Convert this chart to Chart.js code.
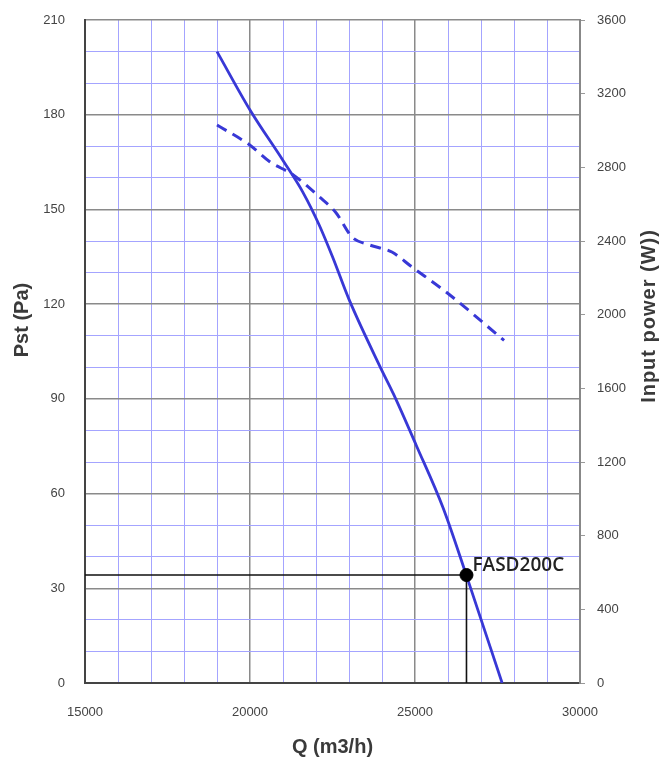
<!DOCTYPE html>
<html>
<head>
<meta charset="utf-8">
<script src="https://cdn.jsdelivr.net/npm/chart.js@4"></script>
<style>
  html, body { margin: 0; padding: 0; background: #fff; }
  #wrap { width: 661px; height: 765px; }
</style>
</head>
<body>
<div id="wrap"><canvas id="fan" width="661" height="765"></canvas></div>
<script>
// static pressure curve (Q in m3/h, Pst in Pa)
const pstQ  = [19000, 20000, 21000, 21600, 22100, 22500, 23000, 23950, 24350, 25050, 25850, 26560, 27640];
const pstPa = [200, 181.5, 165.5, 155.5, 145, 135, 121.5, 100, 91.5, 75, 55.5, 34, 0];

// input power curve (right axis, W)
const powerQ = [19000, 20000, 20600, 21300, 22100, 22600, 23100, 23600, 24300, 24900, 26000, 27700];
const powerW = [3030, 2920, 2830, 2760, 2640, 2555, 2420, 2380, 2340, 2260, 2115, 1860];

// duty point
const dutyQ = [26560];
const dutyP = [34.2];
const dutyName = ["FASD200C"];

// axis tick labels
const xLabels  = [15000, 20000, 25000, 30000];
const yLabels  = [0, 30, 60, 90, 120, 150, 180, 210];
const y2Labels = [0, 400, 800, 1200, 1600, 2000, 2400, 2800, 3200, 3600];

const BLUE = '#3838d6';
const MINOR = '#a4a4ff';
const MAJOR = '#8a8a8a';

function pts(xs, ys) {
  return xs.map((x, i) => ({ x: x, y: ys[i] }));
}

// axis titles drawn by hand (the right one reads bottom-to-top)
const titlesPlugin = {
  id: 'titles',
  afterDraw(chart) {
    const ctx = chart.ctx;
    const a = chart.chartArea;
    ctx.save();
    ctx.fillStyle = '#3a3a3a';
    ctx.font = 'bold 20px "Liberation Sans", Arial, sans-serif';
    ctx.textAlign = 'center';
    ctx.textBaseline = 'middle';
    ctx.fillText('Q (m3/h)', (a.left + a.right) / 2, 747);

    ctx.save();
    ctx.translate(22, 320);
    ctx.rotate(-Math.PI / 2);
    ctx.fillText('Pst (Pa)', 0, 0);
    ctx.restore();

    ctx.save();
    ctx.translate(649, 316);
    ctx.rotate(-Math.PI / 2);
    ctx.letterSpacing = '1px';
    ctx.fillText('Input power (W))', 0, 0);
    ctx.restore();

    // duty point label
    const xs = chart.scales.x, ys = chart.scales.y;
    ctx.font = '600 19px "Open Sans", sans-serif';
    ctx.textAlign = 'left';
    ctx.textBaseline = 'alphabetic';
    ctx.fillStyle = '#222';
    ctx.fillText(dutyName[0], xs.getPixelForValue(dutyQ[0]) + 6, ys.getPixelForValue(dutyP[0]) - 4);
    ctx.restore();
  }
};

const tickFont = { family: '"Liberation Sans", Arial, sans-serif', size: 13 };

function noPad(s, w) {
  s.width = w;
  s.paddingTop = 0;
  s.paddingBottom = 0;
}

new Chart(document.getElementById('fan'), {
  type: 'scatter',
  data: {
    datasets: [
      {
        label: 'duty',
        data: pts(dutyQ, dutyP),
        yAxisID: 'y',
        pointRadius: 6.5,
        pointBackgroundColor: '#000',
        pointBorderColor: '#000',
        showLine: false
      },
      {
        label: 'Pst',
        data: pts(pstQ, pstPa),
        yAxisID: 'y',
        showLine: true,
        borderColor: BLUE,
        borderWidth: 2.8,
        pointRadius: 0,
        cubicInterpolationMode: 'monotone'
      },
      {
        label: 'Input power',
        data: pts(powerQ, powerW),
        yAxisID: 'y2',
        showLine: true,
        borderColor: BLUE,
        borderWidth: 3,
        borderDash: [11, 7],
        pointRadius: 0,
        cubicInterpolationMode: 'monotone'
      },
      {
        label: 'duty lines',
        data: [
          { x: 15000, y: dutyP[0] },
          { x: dutyQ[0], y: dutyP[0] },
          { x: dutyQ[0], y: 0 }
        ],
        yAxisID: 'y',
        showLine: true,
        borderColor: '#111',
        borderWidth: 1.6,
        pointRadius: 0,
        tension: 0
      }
    ]
  },
  options: {
    responsive: false,
    animation: false,
    layout: { padding: { top: 20, left: 0, right: 0, bottom: 0 } },
    plugins: {
      legend: { display: false },
      tooltip: { enabled: false }
    },
    scales: {
      x: {
        type: 'linear',
        min: 15000,
        max: 30000,
        afterFit(s) { s.height = 82; s.paddingLeft = 0; s.paddingRight = 0; },
        border: { display: true, color: '#444', width: 2 },
        grid: {
          drawTicks: false,
          color: c => (c.tick.value % 5000 === 0 ? MAJOR : MINOR),
          lineWidth: c => (c.tick.value % 5000 === 0 ? 1.5 : 1)
        },
        ticks: {
          stepSize: 1000,
          autoSkip: false,
          maxRotation: 0,
          padding: 22,
          color: '#444',
          font: tickFont,
          callback: v => (xLabels.includes(v) ? String(v) : '')
        }
      },
      y: {
        type: 'linear',
        position: 'left',
        min: 0,
        max: 210,
        afterFit(s) { noPad(s, 85); },
        border: { display: true, color: '#444', width: 2 },
        grid: {
          drawTicks: false,
          color: c => (c.tick.value % 30 === 0 ? MAJOR : MINOR),
          lineWidth: c => (c.tick.value % 30 === 0 ? 1.5 : 1)
        },
        ticks: {
          stepSize: 10,
          autoSkip: false,
          padding: 20,
          color: '#444',
          font: tickFont,
          callback: v => (yLabels.includes(v) ? String(v) : '')
        }
      },
      y2: {
        type: 'linear',
        position: 'right',
        min: 0,
        max: 3600,
        afterFit(s) { noPad(s, 81); },
        border: { display: true, color: '#888', width: 2 },
        grid: {
          drawOnChartArea: false,
          drawTicks: true,
          tickLength: 5,
          color: '#999'
        },
        ticks: {
          stepSize: 400,
          autoSkip: false,
          padding: 12,
          color: '#444',
          font: tickFont,
          callback: v => (y2Labels.includes(v) ? String(v) : '')
        }
      }
    }
  },
  plugins: [titlesPlugin]
});
</script>
</body>
</html>
